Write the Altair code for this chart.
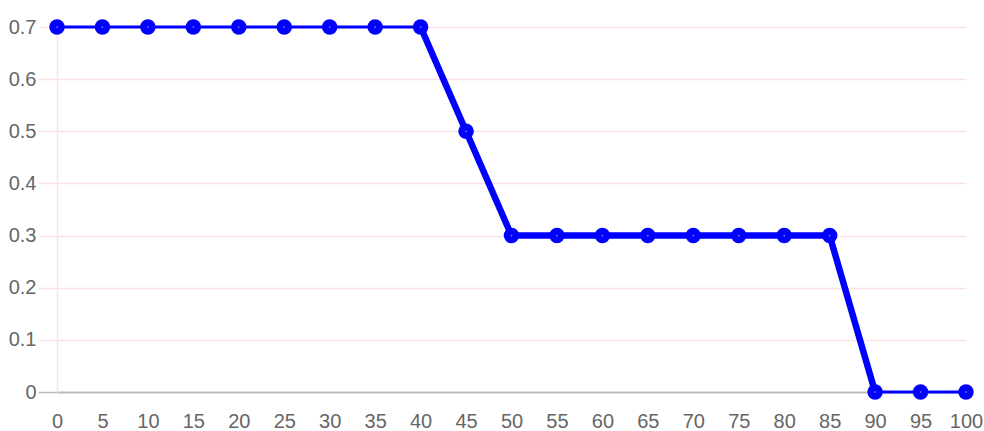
import altair as alt
import pandas as pd

x_vals = [0, 5, 10, 15, 20, 25, 30, 35, 40, 45, 50, 55, 60, 65, 70, 75, 80, 85, 90, 95, 100]
y_vals = [0.7, 0.7, 0.7, 0.7, 0.7, 0.7, 0.7, 0.7, 0.7, 0.5, 0.3, 0.3, 0.3, 0.3, 0.3, 0.3, 0.3, 0.3, 0.0, 0.0, 0.0]
x_ticks = list(range(0, 101, 5))
y_ticks = [0, 0.1, 0.2, 0.3, 0.4, 0.5, 0.6, 0.7]
thick_from, thick_to = 40, 90

df = pd.DataFrame({"x": x_vals, "y": y_vals})

FONT = "Liberation Sans, Arial, sans-serif"
PINK = "#fde0e8"
GRAY = "#b8b8b8"
BLUE = "#0000ff"

x_enc = alt.X(
    "x:Q",
    scale=alt.Scale(domain=[0, 100], nice=False, zero=False),
    axis=alt.Axis(
        values=x_ticks, format="d", title=None, grid=False,
        domain=True, domainColor=GRAY, domainWidth=1.5,
        ticks=False, labelPadding=19, labelFontSize=20, labelFont=FONT,
        labelColor="#666666", labelFlush=False,
    ),
)
y_enc = alt.Y(
    "y:Q",
    scale=alt.Scale(domain=[0, 0.7], nice=False),
    axis=alt.Axis(
        values=y_ticks, format=".1~f", title=None, grid=True,
        gridColor={"condition": {"test": "datum.value === 0", "value": GRAY}, "value": PINK},
        gridWidth=1.5,
        tickColor={"condition": {"test": "datum.value === 0", "value": GRAY}, "value": PINK},
        tickSize=19, tickWidth=1.5,
        domain=True, domainColor=PINK, domainWidth=1.5,
        labelPadding=2, labelFontSize=20, labelFont=FONT, labelColor="#666666",
    ),
)

base = alt.Chart(df)
thin = base.mark_line(color=BLUE, strokeWidth=3).encode(x=x_enc, y=y_enc)
thick = base.transform_filter(
    (alt.datum.x >= thick_from) & (alt.datum.x <= thick_to)
).mark_line(color=BLUE, strokeWidth=6.5).encode(x="x:Q", y="y:Q")
pts = base.mark_point(filled=True, color=BLUE, size=240, opacity=1, shape="circle").encode(x="x:Q", y="y:Q")
centers = base.mark_point(filled=True, color="#7f7fff", size=3, opacity=1, shape="circle").encode(x="x:Q", y="y:Q")

chart = alt.layer(thin, thick, pts, centers).properties(
    width=909, height=365,
    autosize=alt.AutoSizeParams(type="none"),
    padding={"left": 57, "top": 27, "right": 18, "bottom": 39},
).configure_view(stroke=None)

chart.save("out.html", embed_options={"renderer": "svg", "actions": False})
